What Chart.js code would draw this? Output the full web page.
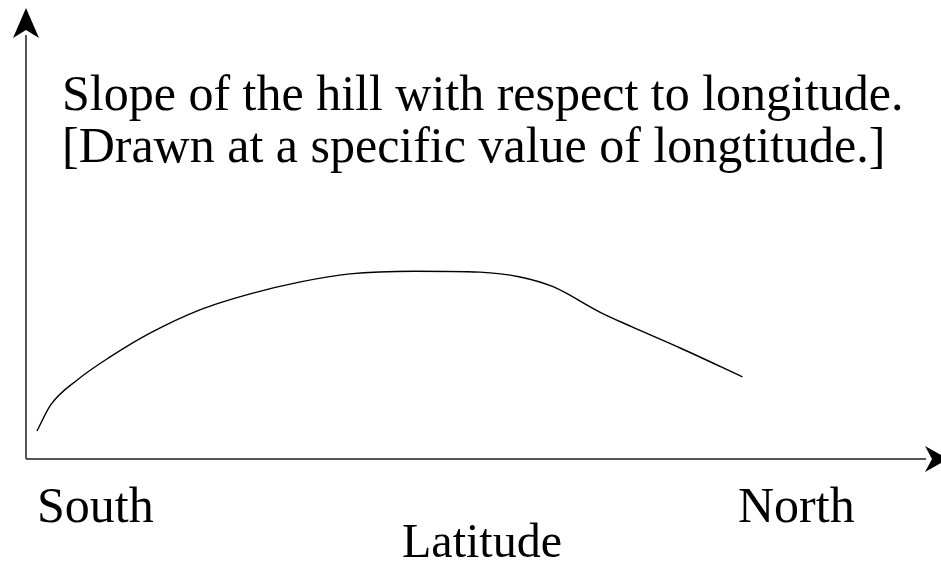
<!DOCTYPE html>
<html>
<head>
<meta charset="utf-8">
<script src="https://cdn.jsdelivr.net/npm/chart.js@4"></script>
<style>
  html, body { margin: 0; padding: 0; background: #fff; }
  #wrap { width: 941px; height: 564px; position: relative; }
</style>
</head>
<body>
<div id="wrap"><canvas id="chart"></canvas></div>
<script>
// sketched profile of the slope (arbitrary units)
const latitude = [1.2, 2.7, 5.6, 9.2, 13.6, 19.0, 24.5, 30.0, 35.4, 42.5, 49.6, 54.0, 57.6, 62.7, 66.3, 71.5, 78.3];
const slope    = [6.3, 12.2, 17.8, 23.0, 28.4, 33.6, 37.2, 39.9, 41.7, 42.3, 42.1, 41.0, 38.8, 33.1, 29.7, 25.0, 18.5];

const titleLines = ['Slope of the hill with respect to longitude.', '[Drawn at a specific value of longtitude.]'];
const endLabels = ['South', 'North'];
const axisTitle = 'Latitude';

const FONT = '"Liberation Serif", "Times New Roman", serif';

// arrows for the axes plus the free text
const sketchAxes = {
  id: 'sketchAxes',
  afterDraw(chart) {
    const { ctx, chartArea: a } = chart;
    ctx.save();
    ctx.strokeStyle = '#555';
    ctx.lineWidth = 2;
    ctx.beginPath();
    ctx.moveTo(a.left, a.bottom);
    ctx.lineTo(a.left, a.top + 20);
    ctx.moveTo(a.left, a.bottom);
    ctx.lineTo(a.right - 15, a.bottom);
    ctx.stroke();

    ctx.fillStyle = '#000';
    // up arrow
    ctx.beginPath();
    ctx.moveTo(a.left, a.top - 7);
    ctx.lineTo(a.left + 13, a.top + 23);
    ctx.lineTo(a.left, a.top + 15);
    ctx.lineTo(a.left - 13, a.top + 23);
    ctx.closePath();
    ctx.fill();
    // right arrow
    ctx.beginPath();
    ctx.moveTo(a.right + 7, a.bottom);
    ctx.lineTo(a.right - 16, a.bottom - 13);
    ctx.lineTo(a.right - 9, a.bottom);
    ctx.lineTo(a.right - 16, a.bottom + 13);
    ctx.closePath();
    ctx.fill();

    ctx.textBaseline = 'alphabetic';
    ctx.textAlign = 'left';
    ctx.font = '50px ' + FONT;
    ctx.fillText(titleLines[0], 62, 110);
    ctx.fillText(titleLines[1], 62, 162);

    ctx.fillText(endLabels[0], 37, 522);
    ctx.fillText(endLabels[1], 738, 522);
    ctx.font = '48px ' + FONT;
    ctx.textAlign = 'center';
    ctx.fillText(axisTitle, 482, 557);
    ctx.restore();
  }
};

new Chart(document.getElementById('chart').getContext('2d'), {
  type: 'line',
  data: {
    datasets: [{
      data: latitude.map((x, i) => ({ x: x, y: slope[i] })),
      borderColor: '#000',
      borderWidth: 1.4,
      pointRadius: 0,
      cubicInterpolationMode: 'monotone',
      fill: false
    }]
  },
  options: {
    responsive: true,
    maintainAspectRatio: false,
    animation: false,
    layout: { padding: { left: 26, right: 0, top: 15, bottom: 105 } },
    scales: {
      x: { type: 'linear', min: 0, max: 100, display: false },
      y: { min: 0, max: 100, display: false }
    },
    plugins: {
      legend: { display: false },
      tooltip: { enabled: false }
    }
  },
  plugins: [sketchAxes]
});
</script>
</body>
</html>
